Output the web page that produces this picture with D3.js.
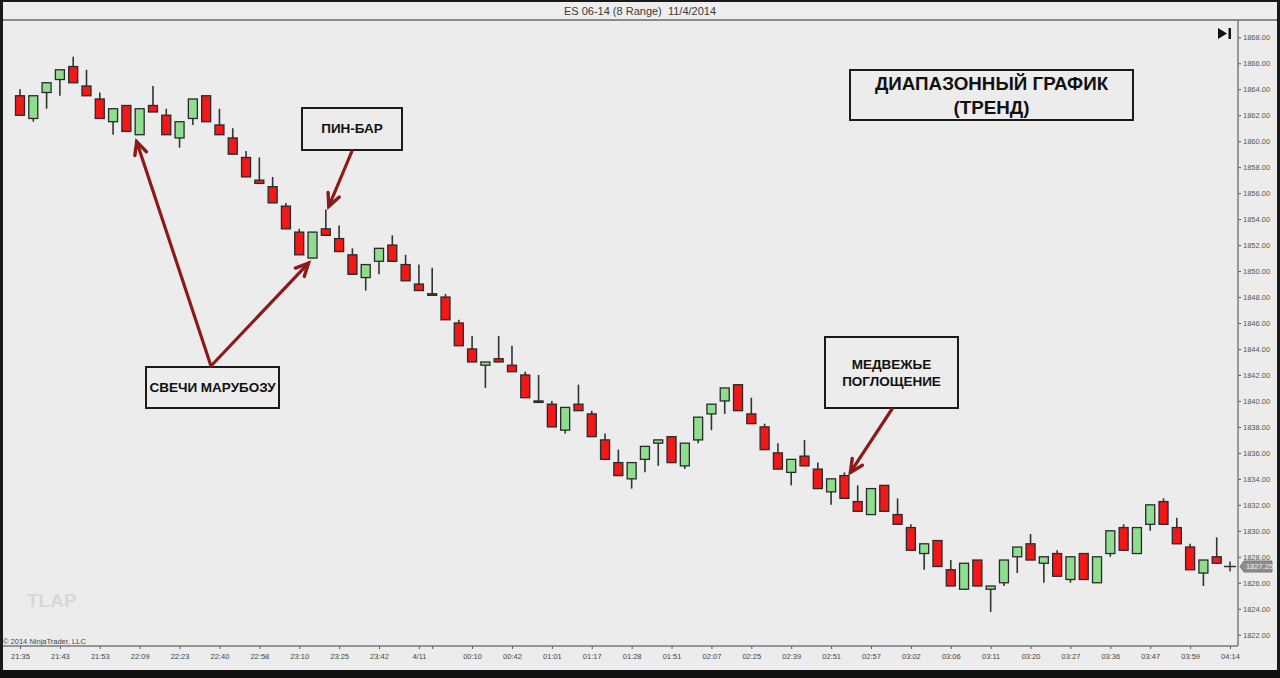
<!DOCTYPE html>
<html><head><meta charset="utf-8">
<script src="https://cdn.jsdelivr.net/npm/d3@7/dist/d3.min.js"></script>
<style>html,body{margin:0;padding:0;background:#ececec;}svg{display:block;}</style>
</head><body>
<script>
// ---- DATA ----
const opens  = [1863.5,1861.75,1863.75,1864.75,1865.75,1864.25,1863.25,1861.5,1862.75,1860.5,
1862.75,1862,1860.25,1861.75,1863.5,1861.25,1860.25,1858.75,1857,1856.5,
1855,1853,1851,1853.25,1852.5,1851.25,1849.5,1850.75,1852,1850.5,
1849,1848.25,1848,1846,1844,1842.75,1843.25,1842.75,1842,1840,
1839.75,1837.75,1839.75,1839,1837,1835.25,1834,1835.5,1836.75,1837.25,
1835,1837,1839,1840,1841.25,1839,1838,1836,1834.5,1835.75,
1834.75,1833,1834.25,1832.25,1831.25,1833.5,1831.25,1830.25,1828.25,1829.25,
1827,1825.5,1827.75,1825.5,1826,1828,1829,1827.5,1828.25,1826.25,
1828.25,1826,1828.25,1830.25,1828.25,1830.5,1832.25,1830.25,1828.75,1826.75,1828];
const highs  = [1864,1863.5,1864.5,1865.5,1866.5,1865.5,1863.75,1862.5,1862.75,1862.5,
1864.25,1862.5,1861.5,1863.25,1863.5,1862.5,1861,1859.25,1858.75,1857.25,
1855.25,1853.25,1853,1854.75,1853.5,1851.75,1850.5,1851.75,1852.75,1851.25,
1850.5,1850.25,1848.25,1846.25,1845,1843,1845,1844.25,1842.25,1842,
1840,1839.5,1841.25,1839.25,1837.5,1836.25,1835.25,1836.5,1837,1837.25,
1836.75,1838.75,1839.75,1841,1841.25,1840.25,1838.25,1836.75,1835.5,1837,
1835.25,1834,1834.5,1833.5,1833.25,1833.5,1832.5,1830.5,1829,1829.25,
1827.75,1827.5,1827.75,1825.75,1827.75,1828.75,1829.75,1828,1828.5,1828,
1828.25,1828,1830,1830.5,1830.25,1832,1832.5,1831,1829,1827.75,1829.5];
const lows   = [1862,1861.5,1862.5,1863.5,1864.5,1863.5,1861.75,1860.5,1860.75,1860.5,
1862.25,1860.5,1859.5,1861.25,1861.5,1860.5,1859,1857.25,1856.75,1855.25,
1853.25,1851.25,1851,1852.75,1851.5,1849.75,1848.5,1849.75,1850.75,1849.25,
1848.5,1848.25,1846.25,1844.25,1843,1841,1843,1842.25,1840.25,1840,
1838,1837.5,1839.25,1837.25,1835.5,1834.25,1833.25,1834.5,1835,1835.25,
1834.75,1836.75,1837.75,1839,1839.25,1838.25,1836.25,1834.75,1833.5,1835,
1833.25,1832,1832.5,1831.5,1831.25,1831.5,1830.5,1828.5,1827,1827.25,
1825.75,1825.5,1825.75,1823.75,1825.75,1826.75,1827.75,1826,1826.5,1826,
1826.25,1826,1828,1828.5,1828.25,1830,1830.5,1829,1827,1825.75,1827.5];
const closes = [1862,1863.5,1864.5,1865.5,1864.5,1863.5,1861.75,1862.5,1860.75,1862.5,
1862.25,1860.5,1861.5,1863.25,1861.5,1860.5,1859,1857.25,1856.75,1855.25,
1853.25,1851.25,1853,1852.75,1851.5,1849.75,1850.5,1851.75,1850.75,1849.25,
1848.5,1848.25,1846.25,1844.25,1843,1843,1843,1842.25,1840.25,1840,
1838,1839.5,1839.25,1837.25,1835.5,1834.25,1835.25,1836.5,1837,1835.25,
1836.75,1838.75,1839.75,1841,1839.25,1838.25,1836.25,1834.75,1835.5,1835,
1833.25,1834,1832.5,1831.5,1833.25,1831.5,1830.5,1828.5,1829,1827.25,
1825.75,1827.5,1825.75,1825.75,1827.75,1828.75,1827.75,1828,1826.5,1828,
1826.25,1828,1830,1828.5,1830.25,1832,1830.5,1829,1827,1827.75,1827.5];
const lastPrice = 1827.25;
const tickIdx    = [0,3,6,9,12,15,18,21,24,27,30,31,34,37,40,43,46,49,52,55,58,61,64,67,70,73,76,79,82,85,88,91];
const tickLabels = ["21:35","21:43","21:53","22:09","22:23","22:40","22:58","23:10","23:25","23:42","4/11","",
"00:10","00:42","01:01","01:17","01:28","01:51","02:07","02:25","02:39","02:51","02:57","03:02","03:06",
"03:11","03:20","03:27","03:36","03:47","03:59","04:14"];
const priceTicks = d3.range(1822, 1869, 2);
const title = "ES 06-14 (8 Range)  11/4/2014";

// ---- CHART ----
const W = 1280, H = 678;
const FF = "Liberation Sans, Arial, sans-serif";
const svg = d3.select("body").append("svg").attr("width", W).attr("height", H);
svg.append("rect").attr("width", W).attr("height", H).attr("fill", "#ececec");

// title bar
svg.append("rect").attr("x",0).attr("y",0).attr("width",W).attr("height",20).attr("fill","#eeeeee");
svg.append("line").attr("x1",0).attr("x2",W).attr("y1",20).attr("y2",20).attr("stroke","#8a8a8a").attr("stroke-width",2);
svg.append("text").attr("x",640).attr("y",14.5).attr("text-anchor","middle").style("white-space","pre")
  .attr("font-family",FF).attr("font-size",11).attr("fill","#3a3a3a").text(title);

const x = d3.scaleLinear().domain([0, 91]).range([20, 1230]);
const y = d3.scaleLinear().domain([1822, 1868]).range([634.7, 37.3]);
const axisX = 1238, axisY = 646;

// watermark & copyright
svg.append("text").attr("x",27).attr("y",607).attr("font-family",FF)
  .attr("font-weight","bold").attr("font-size",19).attr("fill","#d8d8d8").text("TLAP");
svg.append("text").attr("x",3).attr("y",644).attr("font-family",FF)
  .attr("font-size",7.5).attr("fill","#444").text("© 2014 NinjaTrader, LLC");

// axes
const yAxis = d3.axisRight(y).tickValues(priceTicks).tickFormat(d3.format(".2f")).tickSize(3).tickSizeOuter(0);
const gy = svg.append("g").attr("transform",`translate(${axisX},0)`).call(yAxis);
gy.select(".domain").remove();
gy.selectAll("text").attr("font-family",FF).attr("font-size",7.5).attr("fill","#555").attr("x",5);
gy.selectAll("line").attr("stroke","#555");
svg.append("line").attr("x1",axisX).attr("x2",axisX).attr("y1",20).attr("y2",axisY).attr("stroke","#7a7a7a").attr("stroke-width",1.5);

const xAxis = d3.axisBottom(x).tickValues(tickIdx).tickFormat((d,i)=>tickLabels[i]).tickSize(3).tickSizeOuter(0);
const gx = svg.append("g").attr("transform",`translate(0,${axisY})`).call(xAxis);
gx.select(".domain").remove();
gx.selectAll("text").attr("font-family",FF).attr("font-size",7.5).attr("fill","#444").attr("dy","0.9em");
gx.selectAll("line").attr("stroke","#555");
svg.append("line").attr("x1",3).attr("x2",axisX).attr("y1",axisY).attr("y2",axisY).attr("stroke","#7a7a7a").attr("stroke-width",1.5);

// candles
const data = opens.map((o,i)=>({i, o, h: highs[i], l: lows[i], c: closes[i]}));
const bw = 9;
const g = svg.append("g");
g.selectAll("line.wick").data(data).join("line").attr("class","wick")
  .attr("x1",d=>x(d.i)).attr("x2",d=>x(d.i)).attr("y1",d=>y(d.h)).attr("y2",d=>y(d.l))
  .attr("stroke","#333").attr("stroke-width",1.6);
g.selectAll("rect.body").data(data).join("rect").attr("class","body")
  .attr("x",d=>x(d.i)-bw/2).attr("width",bw)
  .attr("y",d=>y(Math.max(d.o,d.c)))
  .attr("height",d=>Math.max(1.5, Math.abs(y(d.o)-y(d.c))))
  .attr("fill",d=>d.c>d.o ? "#8fde8f" : "#f21818")
  .attr("stroke","#2a2a2a").attr("stroke-width",1.3);

// current bar cross & price marker
const cx = x(91), cy = y(lastPrice);
svg.append("path").attr("d",`M${cx-6},${cy}H${cx+6}M${cx},${cy-5}V${cy+5}`).attr("stroke","#333").attr("stroke-width",1.5);
svg.append("path").attr("d",`M${axisX+2},${cy} L${axisX+6},${cy-5.5} H${1272} V${cy+5.5} H${axisX+6} Z`)
  .attr("fill","#8e8e8e").attr("stroke","#777");
svg.append("text").attr("x",axisX+8).attr("y",cy+2.8).attr("font-family",FF)
  .attr("font-size",7.5).attr("fill","#f2f2f2").text(d3.format(".2f")(lastPrice));

// >| icon
svg.append("path").attr("d","M1218,28 L1227,33.5 L1218,39 Z").attr("fill","#111");
svg.append("rect").attr("x",1228.5).attr("y",28).attr("width",2.5).attr("height",11).attr("fill","#111");

// annotation boxes
function box(x0,y0,w,h,lines,fs,ys){
  svg.append("rect").attr("x",x0).attr("y",y0).attr("width",w).attr("height",h)
    .attr("fill","#ececec").attr("stroke","#1a1a1a").attr("stroke-width",2);
  lines.forEach((t,k)=>svg.append("text").attr("x",x0+w/2).attr("y",ys[k]).attr("text-anchor","middle")
    .attr("font-family",FF).attr("font-weight","bold")
    .attr("font-size",fs).attr("fill","#111").text(t));
}
box(850,70,283,50,["ДИАПАЗОННЫЙ ГРАФИК","(ТРЕНД)"],18.8,[90,113.5]);
box(302,108,100,42,["ПИН-БАР"],13.5,[132.5]);
box(146,367,133,41,["СВЕЧИ МАРУБОЗУ"],13.5,[392]);
box(825,337,133,71,["МЕДВЕЖЬЕ","ПОГЛОЩЕНИЕ"],13.5,[368.5,386]);

// arrows
const ac = "#8c1a1a";
function arrow(x1,y1,x2,y2){
  svg.append("line").attr("x1",x1).attr("y1",y1).attr("x2",x2).attr("y2",y2)
    .attr("stroke",ac).attr("stroke-width",3.2).attr("stroke-linecap","round");
  const a = Math.atan2(y2-y1,x2-x1), L = 14, s = 0.45;
  const p1 = [x2 - L*Math.cos(a-s), y2 - L*Math.sin(a-s)];
  const p2 = [x2 - L*Math.cos(a+s), y2 - L*Math.sin(a+s)];
  svg.append("path").attr("d",`M${p1[0]},${p1[1]} L${x2},${y2} L${p2[0]},${p2[1]}`)
    .attr("fill","none").attr("stroke",ac).attr("stroke-width",3.4).attr("stroke-linejoin","miter").attr("stroke-linecap","round");
}
arrow(211, 366, x(9)-3, y(lows[9])+7);
arrow(211, 366, x(22)-4, y(lows[22])+5);
arrow(352, 151, x(23)+3, y(highs[23])-3);
arrow(892, 409, x(62)+6, y(highs[62]));

// outer frame
svg.append("rect").attr("x",0).attr("y",0).attr("width",3).attr("height",H).attr("fill","#1a1a1a");
svg.append("rect").attr("x",W-3).attr("y",0).attr("width",3).attr("height",H).attr("fill","#1a1a1a");
svg.append("rect").attr("x",0).attr("y",0).attr("width",W).attr("height",2).attr("fill","#1a1a1a");
svg.append("rect").attr("x",0).attr("y",670).attr("width",W).attr("height",8).attr("fill","#111");
</script>
</body></html>
